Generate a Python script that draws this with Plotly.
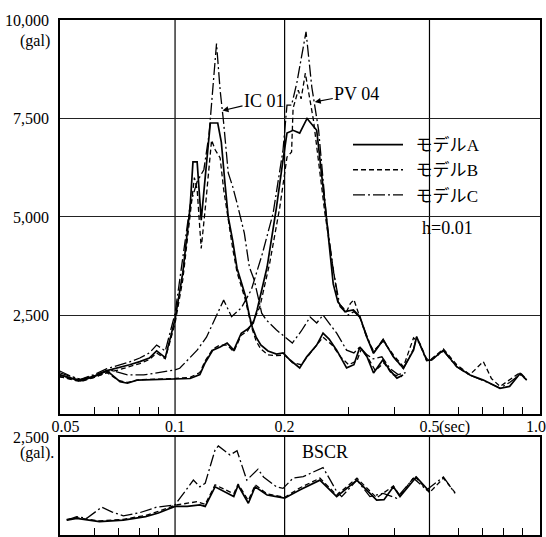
import math
import plotly.graph_objects as go

# ---------------- data (period in sec, response acceleration in gal) ----------------
T_IC01_A = [0.048,0.052,0.055,0.06,0.065,0.07,0.075,0.08,0.085,0.089,0.094,0.1,0.105,0.11,0.112,0.115,0.118,0.121,0.125,0.131,0.134,0.137,0.14,0.144,0.148,0.152,0.156,0.16,0.163,0.167,0.172,0.18,0.19,0.198,0.207,0.22,0.23,0.245,0.255,0.265,0.278,0.296,0.31,0.322,0.337,0.351,0.372,0.39,0.407,0.423]
G_IC01_A = [1000,900,860,960,1100,1170,1250,1330,1420,1600,1430,2400,3580,5250,6400,6400,4920,6000,7385,7385,6900,5900,5000,4400,3700,3350,3000,2500,2200,1950,1750,1600,1520,1550,1370,1170,1450,1750,2050,1900,1620,1170,1250,1700,1450,1040,1370,1100,910,990]

T_IC01_B = [0.048,0.052,0.055,0.06,0.065,0.07,0.075,0.08,0.085,0.089,0.094,0.1,0.105,0.11,0.113,0.115,0.118,0.121,0.126,0.129,0.133,0.136,0.14,0.144,0.148,0.152,0.156,0.16,0.163,0.167,0.172,0.18,0.19,0.2,0.21,0.222,0.235,0.255,0.27,0.285,0.3,0.316,0.325,0.34,0.355,0.375,0.395,0.42]
G_IC01_B = [950,880,840,930,1050,1120,1200,1280,1380,1550,1400,2300,3400,5000,6000,5700,4200,5200,6950,6700,6500,5700,4900,4200,3600,3250,2900,2450,2150,1850,1650,1500,1480,1500,1300,1250,1550,1950,1750,1450,1250,1350,1650,1400,1100,1300,1000,950]

T_IC01_C = [0.048,0.052,0.055,0.06,0.065,0.07,0.075,0.08,0.085,0.089,0.094,0.1,0.105,0.11,0.115,0.12,0.124,0.13,0.133,0.136,0.14,0.144,0.148,0.155,0.16,0.165,0.169,0.173,0.178,0.19,0.21,0.222,0.235,0.245,0.255,0.278,0.296,0.31,0.322,0.337,0.35,0.37,0.39,0.41,0.43]
G_IC01_C = [1100,950,880,1000,1150,1230,1320,1420,1550,1750,1600,2550,3900,5300,5900,6200,7100,9400,8220,7385,6120,5770,5350,4590,3730,3400,2980,2560,2390,2130,1800,2100,2460,2310,2510,2050,1620,1550,1700,1500,1400,1450,1150,1000,1050]

T_PV04_A = [0.048,0.052,0.055,0.06,0.065,0.0706,0.074,0.0785,0.085,0.09,0.1,0.11,0.117,0.121,0.127,0.133,0.139,0.145,0.152,0.158,0.164,0.168,0.179,0.19,0.198,0.203,0.211,0.22,0.2305,0.245,0.261,0.272,0.28,0.293,0.309,0.322,0.336,0.351,0.373,0.398,0.424,0.452,0.461,0.491,0.507,0.546,0.594,0.646,0.703,0.781,0.83,0.887,0.925]
G_PV04_A = [1000,900,840,950,1100,820,780,860,870,870,880,900,1000,1300,1620,1700,1800,1620,2050,2150,2310,2640,3730,5250,6450,7130,7200,7130,7500,7200,4920,3300,2850,2600,2640,2470,1960,1540,1880,1450,1160,1620,1960,1370,1370,1620,1200,990,860,650,700,1030,860]

T_PV04_B = [0.048,0.052,0.055,0.06,0.065,0.07,0.074,0.08,0.09,0.1,0.11,0.117,0.121,0.127,0.133,0.139,0.145,0.152,0.158,0.164,0.171,0.182,0.194,0.203,0.209,0.211,0.218,0.222,0.228,0.24,0.258,0.281,0.296,0.303,0.31,0.322,0.336,0.351,0.373,0.398,0.424,0.452,0.47,0.491,0.507,0.546,0.594,0.646,0.703,0.74,0.781,0.84,0.887,0.925]
G_PV04_B = [950,870,820,930,1050,850,800,870,880,900,930,1050,1350,1650,1750,1750,1580,2000,2100,2350,2720,3830,5250,6520,6650,7760,8220,8000,8650,7460,5100,2820,2600,2800,2900,2450,1950,1600,1850,1500,1200,1930,1800,1400,1400,1650,1250,1000,1330,900,700,900,1050,880]

T_PV04_C = [0.048,0.052,0.055,0.06,0.066,0.074,0.082,0.09,0.1,0.103,0.115,0.122,0.136,0.143,0.152,0.162,0.174,0.186,0.198,0.203,0.209,0.216,0.229,0.2375,0.248,0.261,0.272,0.284,0.299,0.31,0.322,0.336,0.351,0.373,0.398,0.424,0.452,0.461,0.491,0.507,0.546,0.594,0.646,0.703,0.781,0.83,0.887,0.925]
G_PV04_C = [1050,950,870,980,1120,990,990,1050,1120,1160,1620,1950,2890,2470,2690,3150,4090,5100,6700,7840,7840,8400,9700,8300,7200,4920,3650,2720,2510,2600,2450,2000,1550,1900,1450,1150,1650,1960,1350,1370,1600,1200,980,850,660,800,1000,870]

T_BSCR_A = [0.0504,0.0537,0.062,0.0721,0.083,0.09,0.1,0.108,0.117,0.121,0.1288,0.145,0.149,0.159,0.166,0.179,0.19,0.2,0.22,0.25,0.278,0.316,0.358,0.375,0.398,0.415,0.46,0.5]
G_BSCR_A = [380,425,340,380,470,560,730,730,770,730,1230,980,1270,810,1230,1020,980,940,1150,1400,980,1400,890,900,1230,980,1480,1110]

T_BSCR_B = [0.0504,0.0537,0.062,0.072,0.083,0.09,0.1,0.108,0.115,0.121,0.1288,0.145,0.149,0.159,0.166,0.179,0.19,0.2,0.22,0.25,0.278,0.316,0.358,0.398,0.415,0.455,0.5,0.546,0.588]
G_BSCR_B = [400,440,360,400,500,600,760,800,850,780,1280,1050,1300,880,1280,1050,1000,960,1200,1450,1020,1450,950,1250,1000,1500,1080,1450,1080]

T_BSCR_C = [0.0504,0.0537,0.0572,0.0629,0.067,0.0721,0.08,0.089,0.1,0.1123,0.117,0.121,0.1288,0.1315,0.1416,0.148,0.1574,0.169,0.175,0.19,0.198,0.211,0.225,0.255,0.267,0.278,0.287,0.316,0.343,0.373,0.406,0.452,0.491,0.546,0.588]
G_BSCR_C = [380,470,425,710,590,490,570,710,770,1400,1230,1320,2170,2270,2040,2150,1400,1680,1480,1230,1190,1450,1490,1720,1400,1110,980,1400,980,1060,940,1450,1150,1480,1060]

MODEL_NAMES = ["\u00a0\u00a0モデル<span style='font-family:Liberation Serif'>A</span>",
               "\u00a0\u00a0モデル<span style='font-family:Liberation Serif'>B</span>",
               "\u00a0\u00a0モデル<span style='font-family:Liberation Serif'>C</span>"]

X_TICK_VALS = [0.05, 0.1, 0.2, 0.5]
X_TICK_TEXT = ["0.05", "0.1", "0.2", "0.5"]
X_END_VAL = 1.0
X_END_TEXT = "1.0"
X_MINOR_TICKS = [0.06, 0.07, 0.08, 0.09, 0.3, 0.4, 0.6, 0.7, 0.8, 0.9]
GRID_PERIODS = [0.1, 0.2, 0.5]
Y_TOP_TICKS = [2500, 5000, 7500, 10000]
Y_TOP_TEXT = ["2,500", "5,000", "7,500", "10,000"]
Y_BOT_TICKS = [0, 2500]
Y_BOT_TEXT = ["0", "2,500"]

# ---------------- styles ----------------
SERIF = "Liberation Serif"
CJK = "Noto Sans CJK JP"
STYLES = [
    dict(color="black", width=1.7, dash="solid"),
    dict(color="black", width=1.3, dash="5px,3px"),
    dict(color="black", width=1.3, dash="12px,3px,2px,3px"),
]

fig = go.Figure()

top_series = [(T_IC01_A, G_IC01_A), (T_IC01_B, G_IC01_B), (T_IC01_C, G_IC01_C)]
for i, (t, g) in enumerate(top_series):
    fig.add_trace(go.Scatter(x=t, y=g, mode="lines", line=STYLES[i], name=MODEL_NAMES[i],
                             legendgroup=str(i), showlegend=True, xaxis="x", yaxis="y"))
pv_series = [(T_PV04_A, G_PV04_A), (T_PV04_B, G_PV04_B), (T_PV04_C, G_PV04_C)]
for i, (t, g) in enumerate(pv_series):
    fig.add_trace(go.Scatter(x=t, y=g, mode="lines", line=STYLES[i], name=MODEL_NAMES[i],
                             legendgroup=str(i), showlegend=False, xaxis="x", yaxis="y"))
bs_series = [(T_BSCR_A, G_BSCR_A), (T_BSCR_B, G_BSCR_B), (T_BSCR_C, G_BSCR_C)]
for i, (t, g) in enumerate(bs_series):
    fig.add_trace(go.Scatter(x=t, y=g, mode="lines", line=STYLES[i], name=MODEL_NAMES[i],
                             legendgroup=str(i), showlegend=False, xaxis="x2", yaxis="y2"))

XRANGE = [math.log10(0.0483), math.log10(1.006)]
common_x = dict(type="log", range=XRANGE, showline=True, mirror=True, linecolor="black",
                linewidth=1.5, ticks="", showgrid=False, zeroline=False, automargin=False,
                minor=dict(tickvals=X_MINOR_TICKS, ticks="inside", ticklen=7,
                           tickcolor="black", tickwidth=1.2, showgrid=False))

fig.update_layout(
    width=546, height=537,
    margin=dict(l=60, r=6, t=20, b=2, autoexpand=False),
    paper_bgcolor="white", plot_bgcolor="white",
    font=dict(family=SERIF, size=16, color="black"),
    xaxis=dict(**common_x, domain=[0, 1], anchor="y",
               tickvals=X_TICK_VALS, ticktext=X_TICK_TEXT, showticklabels=True,
               ticklabelstandoff=-3, tickfont=dict(family=SERIF, size=16)),
    yaxis=dict(domain=[0.235, 1.0], range=[0, 10000], anchor="x", automargin=False,
               tickvals=Y_TOP_TICKS, ticktext=Y_TOP_TEXT, ticks="",
               showgrid=True, gridcolor="#222", gridwidth=1, zeroline=False,
               showline=True, mirror=True, linecolor="black", linewidth=1.5,
               ticklabelstandoff=6, tickfont=dict(family=SERIF, size=16)),
    xaxis2=dict(**common_x, domain=[0, 1], anchor="y2", showticklabels=False),
    yaxis2=dict(domain=[0.0, 0.1903], range=[0, 2500], anchor="x2", automargin=False,
                tickvals=Y_BOT_TICKS, ticktext=Y_BOT_TEXT, ticks="",
                showgrid=False, zeroline=False,
                showline=True, mirror=True, linecolor="black", linewidth=1.5,
                ticklabelstandoff=6, tickfont=dict(family=SERIF, size=16)),
    legend=dict(x=0.6, y=0.792, xanchor="left", yanchor="top",
                bgcolor="rgba(0,0,0,0)", borderwidth=0, itemwidth=50,
                font=dict(family=CJK, size=17, color="black"),
                traceorder="normal"),
    showlegend=True,
)

# vertical grid lines at major periods (both panels)
for p in GRID_PERIODS:
    for xr, yr in (("x", "y domain"), ("x2", "y2 domain")):
        fig.add_shape(type="line", xref=xr, yref=yr, x0=p, x1=p, y0=0, y1=1,
                      line=dict(color="black", width=1.2), layer="below")

annotations = [
    dict(text="(gal)", xref="paper", yref="paper", x=-0.017, y=0.959,
         xanchor="right", yanchor="middle", showarrow=False, font=dict(size=16)),
    dict(text="(gal).", xref="paper", yref="paper", x=-0.008, y=0.159,
         xanchor="right", yanchor="middle", showarrow=False, font=dict(size=16)),
    dict(text="(sec)", xref="x", yref="y domain", x=math.log10(0.5), xshift=8,
         y=-0.033, xanchor="left", yanchor="middle", showarrow=False, font=dict(size=16)),
    dict(text=X_END_TEXT, xref="x", yref="y domain", x=math.log10(X_END_VAL), xshift=-3,
         y=-0.033, xanchor="center", yanchor="middle", showarrow=False, font=dict(size=16)),
    dict(text="IC 01", xref="x", yref="y", x=math.log10(0.135), y=7700,
         ax=42, ay=-10, showarrow=True, arrowhead=2, arrowsize=1, arrowwidth=1.2,
         arrowcolor="black", standoff=0, font=dict(size=18)),
    dict(text="PV 04", xref="x", yref="y", x=math.log10(0.242), y=7920,
         ax=42, ay=-8, showarrow=True, arrowhead=2, arrowsize=1, arrowwidth=1.2,
         arrowcolor="black", standoff=0, font=dict(size=18)),
    dict(text="h=0.01", xref="x domain", yref="y domain", x=0.75, y=0.472,
         xanchor="left", yanchor="middle", showarrow=False, font=dict(size=18)),
    dict(text="BSCR", xref="x2", yref="y2", x=math.log10(0.258), y=2120,
         showarrow=False, font=dict(size=18)),
]
for a in annotations:
    fig.add_annotation(**a)

fig.write_html("out.html")
